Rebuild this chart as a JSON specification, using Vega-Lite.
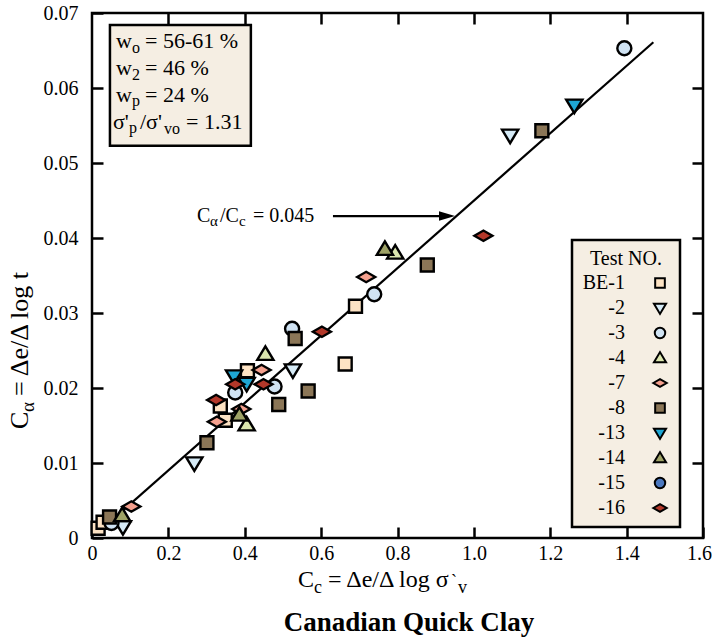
{
  "$schema": "https://vega.github.io/schema/vega-lite/v6.json",
  "width": 611,
  "height": 525,
  "autosize": {"type": "none"},
  "padding": {"left": 92, "top": 13, "right": 9, "bottom": 103},
  "background": "white",
  "config": {
    "view": {"stroke": "black", "strokeWidth": 2.5},
    "axis": {"grid": false, "domain": false, "tickColor": "black", "tickWidth": 2.5, "tickSize": -11, "labelFont": "Liberation Serif, Times New Roman, serif", "labelFontSize": 20, "labelColor": "black", "labelFlush": false, "labelOverlap": false},
    "text": {"font": "Liberation Serif, Times New Roman, serif", "fill": "black", "align": "left", "baseline": "alphabetic"},
    "legend": {"titleFont": "Liberation Serif, Times New Roman, serif", "titleFontSize": 20, "titleFontWeight": "normal", "titleColor": "black", "titleAnchor": "middle", "titlePadding": 4, "labelFont": "Liberation Serif, Times New Roman, serif", "labelFontSize": 20, "labelColor": "black", "labelAlign": "right", "labelOffset": -45, "symbolOffset": 69, "symbolSize": 180, "symbolStrokeWidth": 2, "rowPadding": 5, "padding": 9, "fillColor": "#f5eee3", "strokeColor": "black", "strokeWidth": 2.5}
  },
  "datasets": {
    "tests": [
      {"test": "BE-1", "cc": 0.016, "ca": 0.0013},
      {"test": "BE-1", "cc": 0.029, "ca": 0.0021},
      {"test": "BE-1", "cc": 0.336, "ca": 0.0176},
      {"test": "BE-1", "cc": 0.349, "ca": 0.0157},
      {"test": "BE-1", "cc": 0.407, "ca": 0.0223},
      {"test": "BE-1", "cc": 0.663, "ca": 0.0232},
      {"test": "BE-1", "cc": 0.690, "ca": 0.0309},
      {"test": "-2", "cc": 0.081, "ca": 0.0015},
      {"test": "-2", "cc": 0.268, "ca": 0.0100},
      {"test": "-2", "cc": 0.526, "ca": 0.0224},
      {"test": "-2", "cc": 1.095, "ca": 0.0537},
      {"test": "-3", "cc": 0.051, "ca": 0.0020},
      {"test": "-3", "cc": 0.375, "ca": 0.0194},
      {"test": "-3", "cc": 0.478, "ca": 0.0202},
      {"test": "-3", "cc": 0.524, "ca": 0.0279},
      {"test": "-3", "cc": 0.739, "ca": 0.0325},
      {"test": "-3", "cc": 1.394, "ca": 0.0653},
      {"test": "-4", "cc": 0.405, "ca": 0.0151},
      {"test": "-4", "cc": 0.454, "ca": 0.0245},
      {"test": "-4", "cc": 0.794, "ca": 0.0380},
      {"test": "-7", "cc": 0.103, "ca": 0.0042},
      {"test": "-7", "cc": 0.327, "ca": 0.0155},
      {"test": "-7", "cc": 0.391, "ca": 0.0172},
      {"test": "-7", "cc": 0.444, "ca": 0.0224},
      {"test": "-7", "cc": 0.718, "ca": 0.0348},
      {"test": "-8", "cc": 0.046, "ca": 0.0028},
      {"test": "-8", "cc": 0.301, "ca": 0.0127},
      {"test": "-8", "cc": 0.489, "ca": 0.0178},
      {"test": "-8", "cc": 0.532, "ca": 0.0266},
      {"test": "-8", "cc": 0.566, "ca": 0.0196},
      {"test": "-8", "cc": 0.878, "ca": 0.0364},
      {"test": "-8", "cc": 1.178, "ca": 0.0543},
      {"test": "-13", "cc": 0.372, "ca": 0.0216},
      {"test": "-13", "cc": 0.405, "ca": 0.0206},
      {"test": "-13", "cc": 1.263, "ca": 0.0577},
      {"test": "-14", "cc": 0.079, "ca": 0.0030},
      {"test": "-14", "cc": 0.386, "ca": 0.0164},
      {"test": "-14", "cc": 0.767, "ca": 0.0385},
      {"test": "-16", "cc": 0.325, "ca": 0.0184},
      {"test": "-16", "cc": 0.375, "ca": 0.0205},
      {"test": "-16", "cc": 0.449, "ca": 0.0205},
      {"test": "-16", "cc": 0.602, "ca": 0.0275},
      {"test": "-16", "cc": 1.025, "ca": 0.0403}
    ],
    "fit": [
      {"cc": 0.055, "ca": 0.0025},
      {"cc": 1.47, "ca": 0.0661}
    ]
  },
  "resolve": {"axis": {"x": "independent", "y": "independent"}},
  "layer": [
    {
      "data": {"name": "fit"},
      "mark": {"type": "line", "color": "black", "strokeWidth": 2.2},
      "encoding": {
        "x": {"field": "cc", "type": "quantitative", "scale": {"domain": [0, 1.6], "nice": false, "zero": false}, "axis": {"orient": "top", "labels": false, "values": [0.2, 0.4, 0.6, 0.8, 1.0, 1.2, 1.4], "title": null}},
        "y": {"field": "ca", "type": "quantitative", "scale": {"domain": [0, 0.07], "nice": false, "zero": false}, "axis": {"orient": "right", "labels": false, "values": [0.01, 0.02, 0.03, 0.04, 0.05, 0.06], "title": null}}
      }
    },
    {
      "data": {"values": [{}]},
      "layer": [
        {
          "mark": {"type": "rect", "fill": "#f5eee3", "stroke": "black", "strokeWidth": 2.5},
          "encoding": {"x": {"datum": 0.047}, "x2": {"datum": 0.416}, "y": {"datum": 0.0684}, "y2": {"datum": 0.0523}}
        },
        {"mark": {"type": "text", "text": "w", "fontSize": 22}, "encoding": {"x": {"datum": 0.0628}, "y": {"datum": 0.06533}}},
        {"mark": {"type": "text", "text": "o", "fontSize": 16, "dx": 16, "dy": 5}, "encoding": {"x": {"datum": 0.0628}, "y": {"datum": 0.06533}}},
        {"mark": {"type": "text", "text": "= 56-61 %", "fontSize": 22, "dx": 29}, "encoding": {"x": {"datum": 0.0628}, "y": {"datum": 0.06533}}},
        {"mark": {"type": "text", "text": "w", "fontSize": 22}, "encoding": {"x": {"datum": 0.0628}, "y": {"datum": 0.06173}}},
        {"mark": {"type": "text", "text": "2", "fontSize": 16, "dx": 16, "dy": 5}, "encoding": {"x": {"datum": 0.0628}, "y": {"datum": 0.06173}}},
        {"mark": {"type": "text", "text": "= 46 %", "fontSize": 22, "dx": 29}, "encoding": {"x": {"datum": 0.0628}, "y": {"datum": 0.06173}}},
        {"mark": {"type": "text", "text": "w", "fontSize": 22}, "encoding": {"x": {"datum": 0.0628}, "y": {"datum": 0.05813}}},
        {"mark": {"type": "text", "text": "p", "fontSize": 16, "dx": 16, "dy": 4}, "encoding": {"x": {"datum": 0.0628}, "y": {"datum": 0.05813}}},
        {"mark": {"type": "text", "text": "= 24 %", "fontSize": 22, "dx": 29}, "encoding": {"x": {"datum": 0.0628}, "y": {"datum": 0.05813}}},
        {"mark": {"type": "text", "text": "σ'", "fontSize": 22, "dx": -3}, "encoding": {"x": {"datum": 0.0628}, "y": {"datum": 0.05453}}},
        {"mark": {"type": "text", "text": "p", "fontSize": 16, "dx": 13, "dy": 4}, "encoding": {"x": {"datum": 0.0628}, "y": {"datum": 0.05453}}},
        {"mark": {"type": "text", "text": "/σ'", "fontSize": 22, "dx": 24}, "encoding": {"x": {"datum": 0.0628}, "y": {"datum": 0.05453}}},
        {"mark": {"type": "text", "text": "vo", "fontSize": 16, "dx": 48, "dy": 5}, "encoding": {"x": {"datum": 0.0628}, "y": {"datum": 0.05453}}},
        {"mark": {"type": "text", "text": "= 1.31", "fontSize": 22, "dx": 70}, "encoding": {"x": {"datum": 0.0628}, "y": {"datum": 0.05453}}},
        {"mark": {"type": "text", "text": "C", "fontSize": 20}, "encoding": {"x": {"datum": 0.275}, "y": {"datum": 0.04213}}},
        {"mark": {"type": "text", "text": "α", "fontSize": 15, "dx": 13, "dy": 4}, "encoding": {"x": {"datum": 0.275}, "y": {"datum": 0.04213}}},
        {"mark": {"type": "text", "text": "/C", "fontSize": 20, "dx": 23}, "encoding": {"x": {"datum": 0.275}, "y": {"datum": 0.04213}}},
        {"mark": {"type": "text", "text": "c", "fontSize": 15, "dx": 42, "dy": 4}, "encoding": {"x": {"datum": 0.275}, "y": {"datum": 0.04213}}},
        {"mark": {"type": "text", "text": "= 0.045", "fontSize": 20, "dx": 56}, "encoding": {"x": {"datum": 0.275}, "y": {"datum": 0.04213}}},
        {"mark": {"type": "rule", "color": "black", "strokeWidth": 2.2}, "encoding": {"x": {"datum": 0.631}, "x2": {"datum": 0.93}, "y": {"datum": 0.04293}}},
        {"mark": {"type": "point", "shape": "M1,0L-1,-0.6L-1,0.6Z", "size": 256, "filled": true, "color": "black", "opacity": 1}, "encoding": {"x": {"datum": 0.9296}, "y": {"datum": 0.04293}}},
        {"mark": {"type": "text", "text": "C", "fontSize": 24}, "encoding": {"x": {"datum": 0.5394}, "y": {"datum": -0.006533}}},
        {"mark": {"type": "text", "text": "c", "fontSize": 18, "dx": 16, "dy": 6}, "encoding": {"x": {"datum": 0.5394}, "y": {"datum": -0.006533}}},
        {"mark": {"type": "text", "text": "= Δe/Δ log σ", "fontSize": 24, "dx": 30}, "encoding": {"x": {"datum": 0.5394}, "y": {"datum": -0.006533}}},
        {"mark": {"type": "text", "text": "`", "fontSize": 18, "dx": 153, "dy": 0}, "encoding": {"x": {"datum": 0.5394}, "y": {"datum": -0.006533}}},
        {"mark": {"type": "text", "text": "v", "fontSize": 18, "dx": 160, "dy": 6}, "encoding": {"x": {"datum": 0.5394}, "y": {"datum": -0.006533}}},
        {"mark": {"type": "text", "text": "Canadian Quick Clay", "fontSize": 27, "fontWeight": "bold", "align": "center"}, "encoding": {"x": {"datum": 0.83}, "y": {"datum": -0.0124}}},
        {"mark": {"type": "text", "text": "C", "fontSize": 26, "angle": 270}, "encoding": {"x": {"datum": -0.1676}, "y": {"datum": 0.01453}}},
        {"mark": {"type": "text", "text": "α", "fontSize": 19, "angle": 270, "dx": 17, "dy": 6}, "encoding": {"x": {"datum": -0.1676}, "y": {"datum": 0.01453}}},
        {"mark": {"type": "text", "text": "= Δe/Δ log t", "fontSize": 26, "angle": 270, "dx": 33}, "encoding": {"x": {"datum": -0.1676}, "y": {"datum": 0.01453}}},
        {
          "data": {"name": "tests"},
          "mark": {"type": "point", "filled": true, "strokeWidth": 2.4, "size": 324, "opacity": 1, "strokeOpacity": 1},
          "encoding": {
            "x": {"field": "cc", "type": "quantitative", "scale": {"domain": [0, 1.6], "nice": false, "zero": false}, "axis": {"orient": "bottom", "values": [0, 0.2, 0.4, 0.6, 0.8, 1.0, 1.2, 1.4, 1.6], "labelExpr": "datum.value == 0 ? '0' : format(datum.value, '.1f')", "labelPadding": 16, "labelOffset": {"condition": {"test": "datum.value >= 1.59", "value": -4}, "value": 0}, "title": null}},
            "y": {"field": "ca", "type": "quantitative", "scale": {"domain": [0, 0.07], "nice": false, "zero": false}, "axis": {"orient": "left", "values": [0, 0.01, 0.02, 0.03, 0.04, 0.05, 0.06, 0.07], "labelExpr": "datum.value == 0 ? '0' : format(datum.value, '.2f')", "labelPadding": 25, "title": null}},
            "stroke": {"field": "test", "type": "nominal", "scale": {"domain": ["BE-1", "-2", "-3", "-4", "-7", "-8", "-13", "-14", "-15", "-16"], "range": ["black", "black", "black", "black", "black", "black", "black", "black", "black", "black"]}, "legend": {"title": "Test NO.", "orient": "none", "legendX": 480, "legendY": 227}},
            "fill": {"field": "test", "type": "nominal", "scale": {"domain": ["BE-1", "-2", "-3", "-4", "-7", "-8", "-13", "-14", "-15", "-16"], "range": ["#fde3c4", "#d6ebf7", "#d0e3f3", "#dbe6ae", "#f4a08e", "#8b7657", "#1ea6d4", "#9ea266", "#4b78bf", "#b3382a"]}, "legend": {"title": "Test NO.", "orient": "none", "legendX": 480, "legendY": 227}},
            "shape": {"field": "test", "type": "nominal", "scale": {"domain": ["BE-1", "-2", "-3", "-4", "-7", "-8", "-13", "-14", "-15", "-16"], "range": ["M-0.72,-0.72L0.72,-0.72L0.72,0.72L-0.72,0.72Z", "M-0.9,-0.62L0.9,-0.62L0,0.88Z", "M0.78,0A0.78,0.78,0,1,1,-0.78,0A0.78,0.78,0,1,1,0.78,0Z", "M-0.9,0.62L0.9,0.62L0,-0.88Z", "M-1,0L0,-0.58L1,0L0,0.58Z", "M-0.72,-0.72L0.72,-0.72L0.72,0.72L-0.72,0.72Z", "M-0.9,-0.62L0.9,-0.62L0,0.88Z", "M-0.9,0.62L0.9,0.62L0,-0.88Z", "M0.78,0A0.78,0.78,0,1,1,-0.78,0A0.78,0.78,0,1,1,0.78,0Z", "M-1,0L0,-0.58L1,0L0,0.58Z"]}, "legend": {"title": "Test NO.", "orient": "none", "legendX": 480, "legendY": 227}}
          }
        }
      ]
    }
  ]
}
